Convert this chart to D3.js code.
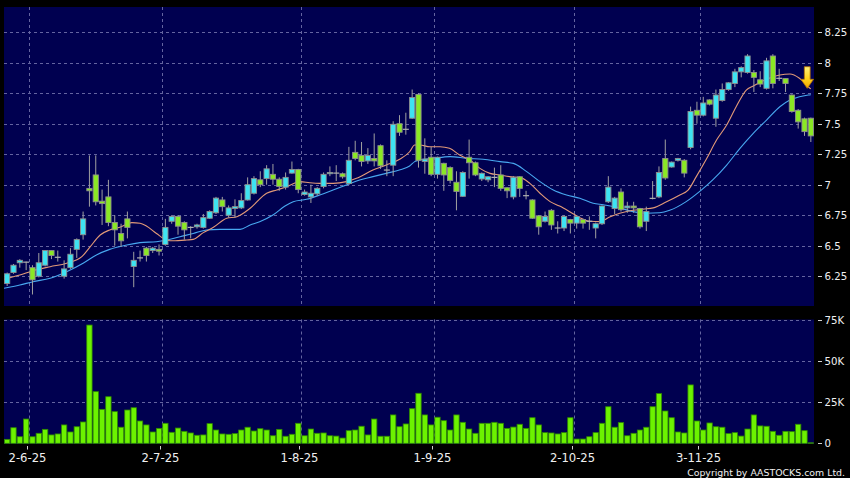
<!DOCTYPE html>
<html><head><meta charset="utf-8">
<script src="https://cdn.jsdelivr.net/npm/d3@7/dist/d3.min.js"></script>
<style>html,body{margin:0;padding:0;background:#000;overflow:hidden}</style>
</head><body>
<svg id="c" width="850" height="478"></svg>
<script>
// ---------- DATA ----------
const opens = [6.19,6.28,6.36,6.365,6.32,6.25,6.34,6.46,6.405,6.25,6.32,6.47,6.59,6.97,7.08,6.865,6.90,6.69,6.60,6.72,
6.33,6.40,6.48,6.46,6.47,6.51,6.70,6.74,6.69,6.65,6.655,6.65,6.725,6.77,6.875,6.75,6.805,6.81,6.875,6.93,
7.04,7.05,7.085,7.045,6.98,7.095,7.125,6.92,6.90,6.925,6.985,7.09,7.095,7.09,7.01,7.265,7.24,7.195,7.215,7.32,
7.12,7.16,7.50,7.454,7.545,7.74,7.19,7.225,7.085,7.175,7.14,7.02,6.905,7.225,7.18,7.047,7.04,7.06,7.08,6.975,
6.90,7.065,6.91,6.875,6.745,6.70,6.79,6.645,6.645,6.715,6.685,6.715,6.70,6.645,6.68,6.86,6.805,6.94,6.81,6.825,
6.805,6.70,6.888,6.90,7.215,7.145,7.20,7.20,7.305,7.61,7.57,7.695,7.545,7.69,7.78,7.83,7.925,7.92,7.92,7.86,
7.79,8.055,7.872,7.87,7.735,7.61,7.54,7.545];
const highs = [6.28,6.35,6.39,6.37,6.34,6.44,6.46,6.46,6.46,6.38,6.48,6.56,6.78,7.24,7.24,6.96,7.04,6.75,6.68,6.78,
6.45,6.46,6.49,6.49,6.51,6.72,6.75,6.75,6.70,6.66,6.68,6.76,6.79,6.90,6.90,6.83,6.88,6.93,7.06,7.07,
7.11,7.16,7.17,7.06,7.10,7.19,7.13,6.96,7.00,6.98,7.10,7.15,7.16,7.10,7.31,7.36,7.35,7.30,7.42,7.33,
7.20,7.52,7.57,7.59,7.78,7.75,7.38,7.31,7.23,7.18,7.15,7.11,7.11,7.37,7.19,7.10,7.07,7.14,7.16,6.98,
7.07,7.07,6.95,6.88,6.75,6.78,6.80,6.70,6.75,6.72,6.75,6.72,6.74,6.69,6.83,7.07,6.90,6.97,6.86,6.86,
6.81,6.82,7.03,7.15,7.37,7.19,7.22,7.21,7.64,7.68,7.72,7.70,7.78,7.83,7.84,7.95,7.97,8.07,7.94,7.93,
8.04,8.07,7.95,7.87,7.74,7.62,7.55,7.55];
const lows = [6.17,6.27,6.32,6.30,6.10,6.24,6.33,6.39,6.37,6.23,6.31,6.40,6.55,6.82,6.83,6.67,6.66,6.50,6.49,6.56,
6.16,6.37,6.37,6.44,6.42,6.50,6.68,6.59,6.55,6.56,6.64,6.64,6.72,6.76,6.78,6.73,6.73,6.80,6.87,6.92,
6.98,7.00,7.00,6.95,6.96,7.09,6.93,6.91,6.85,6.91,6.97,7.07,7.03,7.05,7.00,7.20,7.15,7.17,7.15,7.13,
7.07,7.07,7.40,7.41,7.54,7.14,7.09,7.07,7.05,6.95,7.01,6.79,6.90,7.05,7.07,7.03,7.02,6.98,6.95,6.89,
6.88,6.90,6.88,6.72,6.59,6.69,6.63,6.60,6.62,6.60,6.64,6.64,6.63,6.56,6.67,6.85,6.76,6.78,6.77,6.77,
6.64,6.62,6.88,6.89,7.04,7.14,7.19,7.06,7.29,7.50,7.56,7.65,7.475,7.68,7.77,7.80,7.88,7.91,7.76,7.80,
7.78,7.79,7.85,7.76,7.59,7.46,7.40,7.35];
const closes = [6.27,6.34,6.38,6.365,6.22,6.36,6.46,6.42,6.405,6.31,6.43,6.55,6.72,6.95,6.86,6.845,6.69,6.63,6.54,6.65,
6.38,6.40,6.42,6.48,6.455,6.65,6.74,6.66,6.63,6.65,6.67,6.73,6.78,6.89,6.82,6.81,6.82,6.87,7.00,7.05,
7.00,7.13,7.045,6.985,7.06,7.125,6.96,6.94,6.93,6.97,7.085,7.10,7.095,7.065,7.20,7.215,7.19,7.24,7.195,7.155,
7.12,7.495,7.43,7.454,7.715,7.20,7.21,7.085,7.225,7.08,7.035,6.945,7.10,7.18,7.08,7.093,7.065,7.06,6.97,6.95,
7.06,6.97,6.91,6.725,6.655,6.74,6.67,6.645,6.74,6.685,6.74,6.685,6.70,6.68,6.825,6.98,6.89,6.795,6.825,6.81,
6.655,6.78,6.888,7.10,7.055,7.185,7.215,7.095,7.60,7.57,7.67,7.66,7.735,7.78,7.835,7.925,7.96,8.055,7.88,7.825,
8.015,7.83,7.872,7.83,7.60,7.515,7.435,7.40];
// volume in thousands of shares
const volumes = [2.4,9.5,4.0,14.8,4.0,6.1,8.5,5.1,5.7,11.2,6.9,10.1,13.0,72.1,31.5,20.7,28.4,19.3,9.8,20.3,
21.7,13.6,11.2,6.9,9.1,12.2,6.7,9.3,7.3,6.3,4.9,5.1,12.0,8.1,5.7,5.5,5.9,8.1,9.8,7.5,
8.9,8.1,4.6,8.5,4.3,5.5,12.2,4.6,8.7,6.1,6.3,4.6,4.4,3.2,7.7,8.1,10.4,5.1,14.8,4.3,
4.3,17.3,10.1,11.8,21.1,30.5,17.3,11.2,15.9,13.8,8.1,17.3,12.8,8.7,6.1,12.2,12.2,12.8,12.2,9.1,
9.9,11.6,9.1,15.6,11.2,6.5,6.3,5.7,6.5,15.6,2.6,2.6,4.0,6.5,12.2,22.3,9.8,12.6,4.6,6.1,
8.1,9.8,22.3,30.3,19.7,15.6,6.9,6.3,35.6,13.6,8.1,12.4,10.1,9.8,5.9,6.5,4.4,8.7,17.3,10.6,
10.4,7.3,4.9,7.3,7.1,11.6,7.7,0.3];
// moving averages: [candle index, price]
const ma10 = [[-0.5,6.225],[2,6.26],[4.1,6.295],[6.8,6.328],[9.4,6.356],[11.8,6.41],[13.1,6.49],[14.7,6.588],[16.2,6.629],[17.8,6.651],
[19.7,6.689],[21,6.684],[22,6.661],[23.6,6.60],[25.2,6.547],[26.2,6.54],[28.4,6.547],[29.4,6.552],[31,6.607],[32.6,6.651],
[34.7,6.725],[36.3,6.738],[38.4,6.807],[41,6.93],[42.6,6.957],[44.2,6.984],[46.3,7.025],[47.8,7.016],[49.4,7.011],[51.5,7.011],
[53.6,7.025],[55.2,7.052],[57.8,7.12],[59.9,7.161],[62.1,7.21],[63.6,7.27],[64.4,7.325],[65.2,7.325],[66.8,7.311],[68.4,7.311],
[69.9,7.298],[71.5,7.243],[73.1,7.202],[74.7,7.134],[76.3,7.093],[77.8,7.08],[79.4,7.066],[81,7.06],[82.6,7.011],[84.2,6.93],
[85.8,6.861],[87.3,6.825],[88.9,6.779],[90.5,6.73],[92.1,6.70],[93.7,6.697],[95.2,6.735],[96.8,6.766],[98.9,6.79],[100.5,6.80],
[102.1,6.81],[104.2,6.86],[106.3,6.916],[107.6,6.955],[108.9,7.066],[110.5,7.21],[112.1,7.366],[113.7,7.489],[115.2,7.639],[116.8,7.776],
[117.9,7.809],[120,7.864],[122.1,7.899],[123.7,7.907],[125.2,7.872],[126.6,7.803],[127,7.785]];
const ma20 = [[-0.5,6.151],[2,6.178],[4.1,6.205],[6.8,6.233],[9.4,6.287],[12,6.356],[14.1,6.424],[16.2,6.47],[18.9,6.506],[21,6.525],
[23.6,6.533],[25.2,6.547],[27.3,6.574],[29.4,6.60],[31.5,6.629],[33.6,6.634],[36.8,6.634],[38.4,6.67],[39.9,6.697],[42,6.752],
[43.9,6.825],[45.2,6.861],[47.3,6.88],[49.4,6.916],[51.5,6.957],[53.6,6.998],[55.7,7.039],[57.8,7.066],[59.9,7.093],[62.1,7.123],
[63.6,7.153],[64.4,7.189],[65.2,7.202],[67.3,7.216],[70,7.23],[72.6,7.216],[75.2,7.208],[77.9,7.189],[80,7.175],[82.1,7.107],
[84.2,7.025],[86.3,6.957],[88.4,6.916],[90.5,6.889],[92.6,6.848],[94.2,6.835],[96.8,6.81],[98.9,6.779],[101,6.766],[103.1,6.77],
[104.7,6.79],[107.3,6.861],[109.4,6.943],[111.5,7.039],[113.7,7.161],[115.8,7.298],[117.9,7.421],[120,7.53],[122.1,7.639],[123.7,7.694],
[125.2,7.721],[126.6,7.735],[127,7.738]];
const dateTickIndex = [3,24,46,67,89,109];
const dateTickLabels = ["2-6-25","2-7-25","1-8-25","1-9-25","2-10-25","3-11-25"];
const priceTicks = [6.25,6.5,6.75,7,7.25,7.5,7.75,8,8.25];
const priceTickLabels = ["6.25","6.5","6.75","7","7.25","7.5","7.75","8","8.25"];
const volTicks = [0,25,50,75];
const volTickLabels = ["0","25K","50K","75K"];
const arrowPrice = 7.79;

// ---------- LAYOUT ----------
const svg = d3.select("#c");
const L = 4, R = 814;
const pTop = 7, pBot = 306, vTop = 319.5, vBot = 444;
const n = closes.length;
const x = d3.scaleBand().domain(d3.range(n)).range([L, R]).padding(0);
const bw = x.bandwidth();
const xc = i => x(i) + bw / 2;
const xl = d3.scaleLinear().domain([-0.5, n - 0.5]).range([L, R]);
const yP = d3.scaleLinear().domain([6.0057, 8.4566]).range([pBot, pTop]);
const yV = d3.scaleLinear().domain([0, 75]).range([443.3, 320.3]);

const NAVY = "#000050", GRID = "#6464a0";
const UP = "#3ee3f2", DOWN = "#8ae824", EDGE = "#8e8e8e";

svg.append("rect").attr("width", 850).attr("height", 478).attr("fill", "#000");
svg.append("rect").attr("x", L).attr("y", pTop).attr("width", R - L).attr("height", pBot - pTop).attr("fill", NAVY);
svg.append("rect").attr("x", L).attr("y", vTop).attr("width", R - L).attr("height", vBot - vTop).attr("fill", NAVY);

const defs = svg.append("defs");
defs.append("clipPath").attr("id", "pclip").append("rect")
  .attr("x", L).attr("y", pTop).attr("width", R - L).attr("height", pBot - pTop);
const grad = defs.append("linearGradient").attr("id", "ag").attr("x1", 0).attr("y1", 0).attr("x2", 0).attr("y2", 1);
grad.append("stop").attr("offset", "0%").attr("stop-color", "#fff07a");
grad.append("stop").attr("offset", "55%").attr("stop-color", "#ffd21c");
grad.append("stop").attr("offset", "100%").attr("stop-color", "#f0a400");

// grid
const gridX = i => x(i) + bw;
const g = svg.append("g").attr("stroke", GRID).attr("stroke-width", 1).attr("stroke-dasharray", "3,3").attr("fill", "none");
priceTicks.forEach(t => {
  const yy = Math.round(yP(t)) + 0.5;
  g.append("line").attr("x1", L).attr("x2", R).attr("y1", yy).attr("y2", yy);
});
[25, 50, 75].forEach(t => {
  const yy = Math.round(yV(t)) + 0.5;
  g.append("line").attr("x1", L).attr("x2", R).attr("y1", yy).attr("y2", yy);
});
dateTickIndex.forEach(i => {
  const xx = Math.round(gridX(i)) + 0.5;
  g.append("line").attr("x1", xx).attr("x2", xx).attr("y1", pTop).attr("y2", pBot);
  g.append("line").attr("x1", xx).attr("x2", xx).attr("y1", vTop).attr("y2", vBot);
});

// moving averages
const plotG = svg.append("g").attr("clip-path", "url(#pclip)");
const line = d3.line().x(d => xl(d[0])).y(d => yP(d[1])).curve(d3.curveMonotoneX);
plotG.append("path").attr("d", line(ma20)).attr("fill", "none").attr("stroke", "#48a8f0").attr("stroke-width", 1.1);
plotG.append("path").attr("d", line(ma10)).attr("fill", "none").attr("stroke", "#e39a78").attr("stroke-width", 1.1);

// candles
const idx = d3.range(n);
const cg = plotG.append("g");
cg.selectAll("line.w").data(idx).join("line")
  .attr("x1", i => xc(i)).attr("x2", i => xc(i))
  .attr("y1", i => yP(highs[i])).attr("y2", i => yP(lows[i]))
  .attr("stroke", "#a0a0a0").attr("stroke-width", 1);
cg.selectAll("rect.b").data(idx.filter(i => opens[i] !== closes[i])).join("rect")
  .attr("x", i => xc(i) - 2.6).attr("width", 5.2)
  .attr("y", i => yP(Math.max(opens[i], closes[i])))
  .attr("height", i => Math.max(1, Math.abs(yP(opens[i]) - yP(closes[i]))))
  .attr("fill", i => closes[i] > opens[i] ? UP : DOWN)
  .attr("stroke", EDGE).attr("stroke-width", 0.9);
cg.selectAll("line.d").data(idx.filter(i => opens[i] === closes[i])).join("line")
  .attr("x1", i => xc(i) - 3).attr("x2", i => xc(i) + 3)
  .attr("y1", i => yP(opens[i])).attr("y2", i => yP(opens[i]))
  .attr("stroke", "#b0b0b0").attr("stroke-width", 1.2);

// volume bars
svg.append("g").selectAll("rect").data(idx).join("rect")
  .attr("x", i => x(i) + 0.5).attr("width", bw - 1)
  .attr("y", i => yV(volumes[i])).attr("height", i => yV(0) - yV(volumes[i]))
  .attr("fill", "#6cf200").attr("stroke", "#2f8a00").attr("stroke-width", 0.8);

// arrow marker on last candle
const ax = xc(n - 1) - 3.6, ay = yP(arrowPrice);
svg.append("path")
  .attr("d", `M${ax-2.9},${ay-21.6} L${ax+2.9},${ay-21.6} L${ax+2.9},${ay-9} L${ax+6.3},${ay-9} L${ax},${ay} L${ax-6.3},${ay-9} L${ax-2.9},${ay-9} Z`)
  .attr("fill", "url(#ag)").attr("stroke", "#b87400").attr("stroke-width", 0.8);

// right axes
const axT = svg.append("g").attr("font-family", "DejaVu Sans, sans-serif").attr("font-size", 10.2).attr("fill", "#f0f0f0");
priceTicks.forEach((t, k) => {
  const yy = Math.round(yP(t)) + 0.5;
  axT.append("line").attr("x1", 818).attr("x2", 822).attr("y1", yy).attr("y2", yy).attr("stroke", "#d0d0d0");
  axT.append("text").attr("x", 824.5).attr("y", yy).attr("dy", "0.36em").text(priceTickLabels[k]);
});
volTicks.forEach((t, k) => {
  const yy = Math.round(yV(t)) + 0.5;
  axT.append("line").attr("x1", 818).attr("x2", 822).attr("y1", yy).attr("y2", yy).attr("stroke", "#d0d0d0");
  axT.append("text").attr("x", 824.5).attr("y", yy).attr("dy", "0.36em").text(volTickLabels[k]);
});

// date axis
const dT = svg.append("g").attr("font-family", "DejaVu Sans, sans-serif").attr("font-size", 11.6).attr("fill", "#f0f0f0");
dateTickIndex.forEach((i, k) => {
  const xx = Math.round(gridX(i) - 2) + 0.5;
  dT.append("line").attr("x1", xx).attr("x2", xx).attr("y1", 446).attr("y2", 449.5).attr("stroke", "#d0d0d0");
  dT.append("text").attr("x", xx).attr("y", 462).attr("text-anchor", "middle").text(dateTickLabels[k]);
});

svg.append("text").attr("x", 845).attr("y", 476).attr("text-anchor", "end")
  .attr("font-family", "DejaVu Sans, sans-serif").attr("font-size", 9.4).attr("fill", "#f0f0f0")
  .text("Copyright by AASTOCKS.com Ltd.");
</script>
</body></html>
